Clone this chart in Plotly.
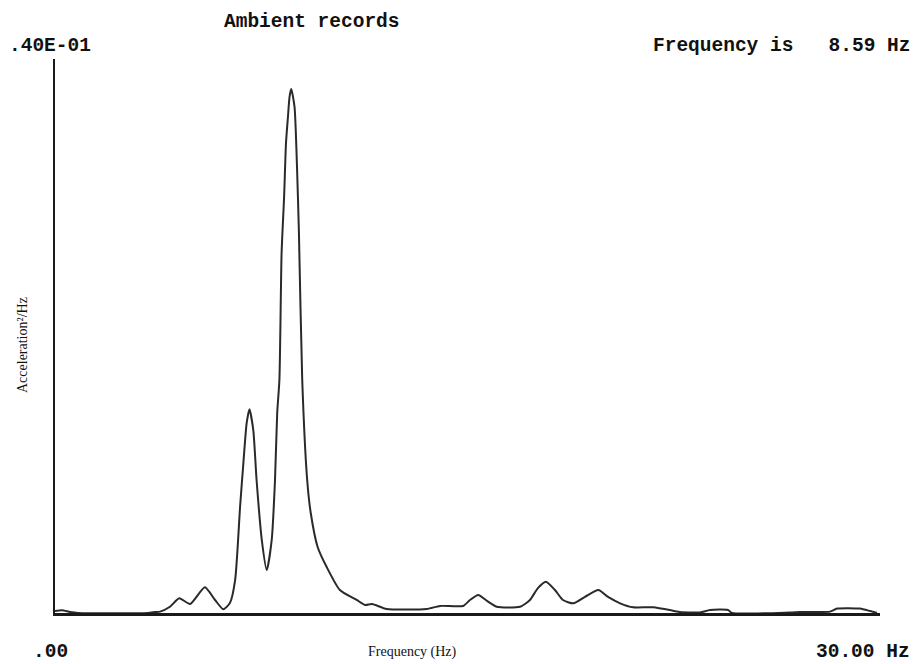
import plotly.graph_objects as go

# Spectrum
freq_hz = [0.0, 0.25, 0.55, 0.84, 3.38, 3.64, 3.82, 4.18, 4.52, 4.91, 5.45, 5.82, 6.12, 6.36, 6.55,
           6.73, 6.85, 6.97, 7.07, 7.21, 7.33, 7.52, 7.70, 7.88, 8.00, 8.08, 8.16, 8.24, 8.33, 8.40,
           8.47, 8.53, 8.59, 8.71, 8.80, 8.87, 8.99, 9.17, 9.30, 9.55, 9.88, 10.36, 10.97, 11.27,
           11.53, 12.06, 13.52, 14.0, 14.84, 15.09, 15.39, 15.71, 16.06, 16.91, 17.27, 17.56, 17.85,
           18.18, 18.47, 18.85, 19.27, 19.76, 20.11, 20.55, 21.02, 21.75, 22.47, 22.73, 23.45, 23.82,
           24.47, 24.62, 26.73, 27.09, 28.18, 28.44, 29.27, 29.64, 29.89]
accel_psd = [0.00014, 0.0002, 0.00007, 0.0, 0.0, 0.00007, 0.0001, 0.00045, 0.00106, 0.00065, 0.00186,
             0.00094, 0.00027, 0.00072, 0.00238, 0.00767, 0.01083, 0.01372, 0.01471, 0.01321, 0.0096,
             0.00527, 0.0031, 0.00527, 0.0096, 0.01444, 0.01682, 0.02599, 0.030, 0.03393, 0.03581,
             0.03728, 0.03783, 0.03655, 0.03222, 0.02744, 0.01682, 0.0096, 0.00722, 0.00477, 0.00332,
             0.00166, 0.00094, 0.00058, 0.00065, 0.00029, 0.00029, 0.00051, 0.00051, 0.00094, 0.0013,
             0.00087, 0.00045, 0.00045, 0.00094, 0.0018, 0.00226, 0.00166, 0.00094, 0.0007, 0.00116,
             0.00166, 0.00116, 0.0007, 0.00041, 0.00041, 0.00017, 0.00007, 0.00004, 0.00022, 0.00022,
             0.0, 0.00004, 0.00007, 0.0001, 0.00032, 0.00032, 0.00014, 0.0]

title_text = "Ambient records"
peak_text = "Frequency is   8.59 Hz"
ymax_label = ".40E-01"
xmin_label = ".00"
xmax_label = "30.00 Hz"
x_title = "Frequency (Hz)"
y_title = "Acceleration²/Hz"

mono = "Liberation Mono, DejaVu Sans Mono, monospace"
serif = "Liberation Serif, DejaVu Serif, serif"

W, H = 914, 664
ML, MR, MT, MB = 55, 34, 59, 51
PW, PH = W - ML - MR, H - MT - MB

fig = go.Figure()
fig.add_trace(go.Scatter(x=freq_hz, y=accel_psd, mode="lines",
                         line=dict(color="#2a2a2a", width=2, shape="spline", smoothing=0.6),
                         hoverinfo="skip", showlegend=False))

fig.update_layout(
    width=W, height=H,
    margin=dict(l=ML, r=MR, t=MT, b=MB),
    paper_bgcolor="white", plot_bgcolor="white",
    xaxis=dict(range=[0, 30], showgrid=False, zeroline=False, showticklabels=False,
               ticks="", showline=True, linecolor="#1a1a1a", linewidth=3, fixedrange=True),
    yaxis=dict(range=[0, 0.04], showgrid=False, zeroline=False, showticklabels=False,
               ticks="", showline=True, linecolor="#1a1a1a", linewidth=2, fixedrange=True),
)

anns = [
    dict(text="<b>%s</b>" % title_text, x=222, y=22, xanchor="left", font=dict(family=mono, size=19.5)),
    dict(text="<b>%s</b>" % peak_text, x=912, y=46, xanchor="right", font=dict(family=mono, size=19.5)),
    dict(text="<b>%s</b>" % ymax_label, x=7, y=46, xanchor="left", font=dict(family=mono, size=19.5)),
    dict(text="<b>%s</b>" % xmin_label, x=31, y=652, xanchor="left", font=dict(family=mono, size=19.5)),
    dict(text="<b>%s</b>" % xmax_label, x=912, y=652, xanchor="right", font=dict(family=mono, size=19.5)),
    dict(text=x_title, x=412, y=652, xanchor="center", font=dict(family=serif, size=14)),
    dict(text=y_title, x=22, y=345, xanchor="center", textangle=-90, font=dict(family=serif, size=14)),
]
for a in anns:
    fig.add_annotation(xref="paper", yref="paper", x=(a["x"] - ML) / PW, y=(H - MB - a["y"]) / PH,
                       text=a["text"], showarrow=False, xanchor=a["xanchor"], yanchor="middle",
                       textangle=a.get("textangle", 0), font=dict(color="#111", **a["font"]))

fig.write_html("out.html")
